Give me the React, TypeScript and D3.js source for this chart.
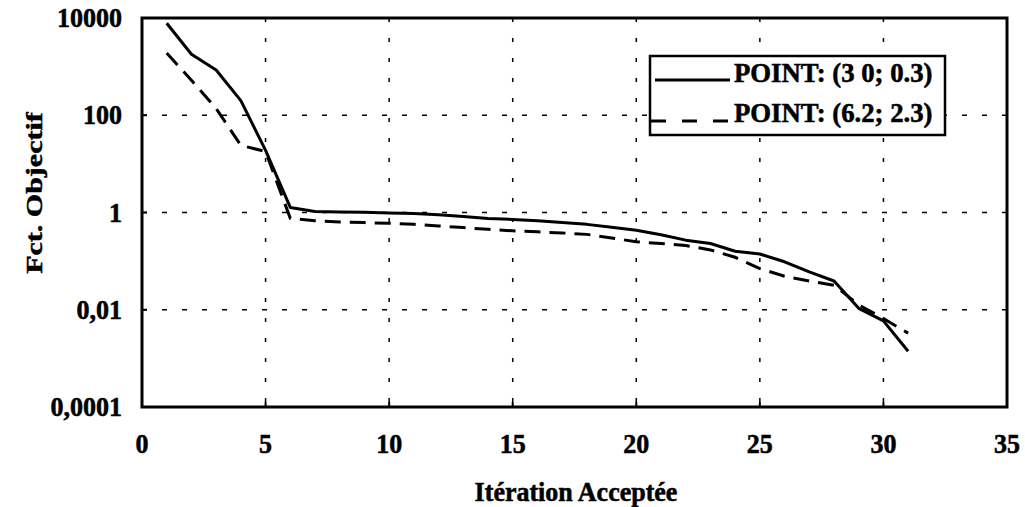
import React from "react";
import * as d3 from "d3";

const iterations = [1, 2, 3, 4, 5, 6, 7, 8, 9, 10, 11, 12, 13, 14, 15, 16, 17, 18, 19, 20, 21, 22, 23, 24, 25, 26, 27, 28, 29, 30, 31];
const solidValues = [7800, 1800, 850, 200, 19, 1.27, 1.05, 1.03, 1.01, 0.98, 0.95, 0.9, 0.83, 0.75, 0.72, 0.68, 0.62, 0.57, 0.5, 0.43, 0.35, 0.27, 0.23, 0.16, 0.14, 0.097, 0.06, 0.039, 0.0107, 0.0059, 0.0014];
const dashedValues = [1900, 525, 138, 24, 18, 0.76, 0.68, 0.64, 0.62, 0.6, 0.57, 0.53, 0.49, 0.45, 0.42, 0.4, 0.38, 0.355, 0.3, 0.25, 0.23, 0.21, 0.17, 0.12, 0.07, 0.049, 0.039, 0.032, 0.0126, 0.0066, 0.0033];
const seriesNames = ["POINT: (3 0; 0.3)", "POINT: (6.2; 2.3)"];
const xTicks = [0, 5, 10, 15, 20, 25, 30, 35];
const yTicks = [0.0001, 0.01, 1, 100, 10000];
const yTickLabels = ["0,0001", "0,01", "1", "100", "10000"];
const xTitle = "Itération Acceptée";
const yTitle = "Fct. Objectif";

const W = 1025;
const H = 507;
const L = 142, R = 1007, T = 18, B = 407;
const FONT = "'Liberation Serif', 'Times New Roman', serif";
const FS = 25;

export default function App() {
  const x = d3.scaleLinear().domain([0, 35]).range([L, R]);
  const y = d3.scaleLog().domain([0.0001, 10000]).range([B, T]);
  const line = d3.line<number>().x((_, i) => x(iterations[i])).y((d) => y(d));
  const dash = "16,9";
  const textT = (tx: number, ty: number, sx = 1.04) => `translate(${tx},${ty}) scale(${sx},1.1)`;
  const tp = { fontFamily: FONT, fontWeight: "bold", fontSize: FS, stroke: "#000", strokeWidth: 0.5 } as const;

  return (
    <svg width={W} height={H} style={{ position: "absolute", left: 0, top: 0, background: "#fff" }}>
      <rect x={0} y={0} width={W} height={H} fill="#fff" />
      {/* grid */}
      {xTicks.filter((t) => t > 0 && t < 35).map((t) => (
        <line key={"gx" + t} x1={x(t)} x2={x(t)} y1={T} y2={B} stroke="#000" strokeWidth={1.5} strokeDasharray="4,16" />
      ))}
      {yTicks.filter((t) => t > 0.0001 && t < 10000).map((t) => (
        <line key={"gy" + t} x1={L} x2={R} y1={y(t)} y2={y(t)} stroke="#000" strokeWidth={1.5} strokeDasharray="5,15" />
      ))}
      {/* ticks */}
      {xTicks.map((t) => (
        <line key={"tx" + t} x1={x(t)} x2={x(t)} y1={B} y2={B - 5} stroke="#000" strokeWidth={2} />
      ))}
      {yTicks.map((t) => (
        <line key={"ty" + t} x1={L} x2={L + 5} y1={y(t)} y2={y(t)} stroke="#000" strokeWidth={2} />
      ))}
      {/* series */}
      <path d={line(solidValues) || ""} fill="none" stroke="#000" strokeWidth={3} strokeLinejoin="round" />
      <path d={line(dashedValues) || ""} fill="none" stroke="#000" strokeWidth={3} strokeDasharray={dash} />
      {/* frame */}
      <rect x={L} y={T} width={R - L} height={B - T} fill="none" stroke="#000" strokeWidth={3} />
      {/* tick labels */}
      {yTicks.map((t, i) => (
        <text key={"ly" + t} transform={textT(122, y(t) + 9)} textAnchor="end" {...tp}>
          {yTickLabels[i]}
        </text>
      ))}
      {xTicks.map((t) => (
        <text key={"lx" + t} transform={textT(x(t), 453)} textAnchor="middle" {...tp}>
          {t}
        </text>
      ))}
      {/* axis titles */}
      <text transform={textT(576, 501)} textAnchor="middle" {...tp}>
        {xTitle}
      </text>
      <text transform={`translate(42,193) rotate(-90) scale(1.25,1)`} textAnchor="middle" {...tp} fontSize={24}>
        {yTitle}
      </text>
      {/* legend */}
      <rect x={650} y={56} width={295} height={79} fill="#fff" stroke="#000" strokeWidth={2.5} />
      <line x1={655} x2={730} y1={80} y2={80} stroke="#000" strokeWidth={3} />
      <line x1={651} x2={730} y1={121} y2={121} stroke="#000" strokeWidth={3} strokeDasharray="15,16" />
      <text transform={textT(734, 82, 1.07)} {...tp}>{seriesNames[0]}</text>
      <text transform={textT(734, 122, 1.07)} {...tp}>{seriesNames[1]}</text>
    </svg>
  );
}
